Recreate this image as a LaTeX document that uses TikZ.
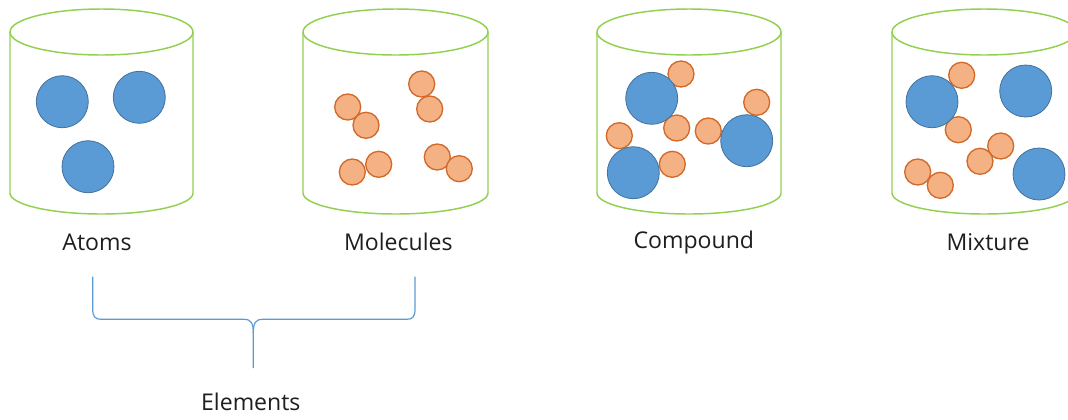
\documentclass[tikz,border=0pt]{standalone}
\usepackage{fontspec}
\setmainfont{Open Sans}
\definecolor{jarGreen}{RGB}{146,208,80}
\definecolor{atomBlue}{RGB}{91,155,213}
\definecolor{atomEdge}{RGB}{65,113,156}
\definecolor{partOrange}{RGB}{244,177,131}
\definecolor{partEdge}{RGB}{210,105,40}
\definecolor{labelGray}{RGB}{30,30,30}
\begin{document}
\begin{tikzpicture}[x=0.75pt,y=0.75pt,yscale=-1,
  jar/.style={draw=jarGreen,line width=1.1pt},
  bigatom/.style={draw=atomEdge,fill=atomBlue,line width=0.6pt},
  smallatom/.style={draw=partEdge,fill=partOrange,line width=1pt},
  jarlabel/.style={anchor=base,inner sep=0.75pt,text=labelGray,font=\fontsize{17.3}{20}\selectfont},
  brace/.style={draw=atomBlue,line width=0.9pt}]
\useasboundingbox (0,0) rectangle (1068,419);

%Shape: Cylinder [id:jar1] 
\draw [jar] (101.5,32) ellipse [x radius=91.5, y radius=23];
\draw [jar] (10,32) -- (10,193) arc [start angle=180, end angle=0, x radius=91.5, y radius=21] -- (193,32);
%Shape: Cylinder [id:jar2] 
\draw [jar] (395.5,32) ellipse [x radius=92.5, y radius=23];
\draw [jar] (303,32) -- (303,193) arc [start angle=180, end angle=0, x radius=92.5, y radius=21] -- (488,32);
%Shape: Cylinder [id:jar3] 
\draw [jar] (689,32) ellipse [x radius=92, y radius=23];
\draw [jar] (597,32) -- (597,193) arc [start angle=180, end angle=0, x radius=92, y radius=21] -- (781,32);
%Shape: Cylinder [id:jar4] 
\draw [jar] (984,32) ellipse [x radius=92, y radius=23];
\draw [jar] (892,32) -- (892,193) arc [start angle=180, end angle=0, x radius=92, y radius=21] -- (1076,32);

%Atoms
\draw [bigatom] (62.3,101.7) circle [radius=26];
\draw [bigatom] (139.3,97.3) circle [radius=26];
\draw [bigatom] (88,166.7) circle [radius=26];

%Molecules
\draw [smallatom] (347.7,107) circle [radius=13];
\draw [smallatom] (366,125.3) circle [radius=13];
\draw [smallatom] (421.7,84) circle [radius=13];
\draw [smallatom] (429.7,109) circle [radius=13];
\draw [smallatom] (352.3,172) circle [radius=13];
\draw [smallatom] (378.7,164.3) circle [radius=13];
\draw [smallatom] (437.3,157) circle [radius=13];
\draw [smallatom] (459.3,168.7) circle [radius=13];

%Compound
\draw [smallatom] (681,74) circle [radius=13];
\draw [smallatom] (756.7,102.3) circle [radius=13];
\draw [smallatom] (619.3,135.7) circle [radius=13];
\draw [smallatom] (676.7,128) circle [radius=13];
\draw [smallatom] (708.3,131) circle [radius=13];
\draw [smallatom] (672.3,164.3) circle [radius=13];
\draw [bigatom] (651.7,98.3) circle [radius=26];
\draw [bigatom] (633.3,172.7) circle [radius=26];
\draw [bigatom] (746.7,140.7) circle [radius=26];

%Mixture
\draw [smallatom] (961.7,75.3) circle [radius=13];
\draw [smallatom] (958.3,129.7) circle [radius=13];
\draw [smallatom] (1000.7,146) circle [radius=13];
\draw [smallatom] (980,161.3) circle [radius=13];
\draw [smallatom] (917.7,172) circle [radius=13];
\draw [smallatom] (940.3,185.3) circle [radius=13];
\draw [bigatom] (932,101.7) circle [radius=26];
\draw [bigatom] (1025.7,91) circle [radius=26];
\draw [bigatom] (1039,174) circle [radius=26];

% Text Node
\node (atoms) [jarlabel] at (97,250.5) {Atoms};
% Text Node
\node (molecules) [jarlabel] at (398.3,250.5) {Molecules};
% Text Node
\node (compound) [jarlabel] at (693.8,248.5) {Compound};
% Text Node
\node (mixture) [jarlabel] at (988,250.5) {Mixture};
% Text Node
\node (elements) [jarlabel] at (250.8,410.5) {Elements};

%Brace
\coordinate (braceL) at (92.7,276.7);
\coordinate (braceR) at (415,276.7);
\coordinate (braceTip) at (253.3,368);
\draw [brace] (braceL) -- (92.7,309) .. controls (92.7,316.5) and (95,319.3) .. (101,319.3) -- (244,319.3) .. controls (251,319.3) and (253.3,323) .. (253.3,333) -- (braceTip);
\draw [brace] (braceR) -- (415,309) .. controls (415,316.5) and (412.7,319.3) .. (406.7,319.3) -- (262.6,319.3) .. controls (255.6,319.3) and (253.3,323) .. (253.3,333);

\end{tikzpicture}
\end{document}
